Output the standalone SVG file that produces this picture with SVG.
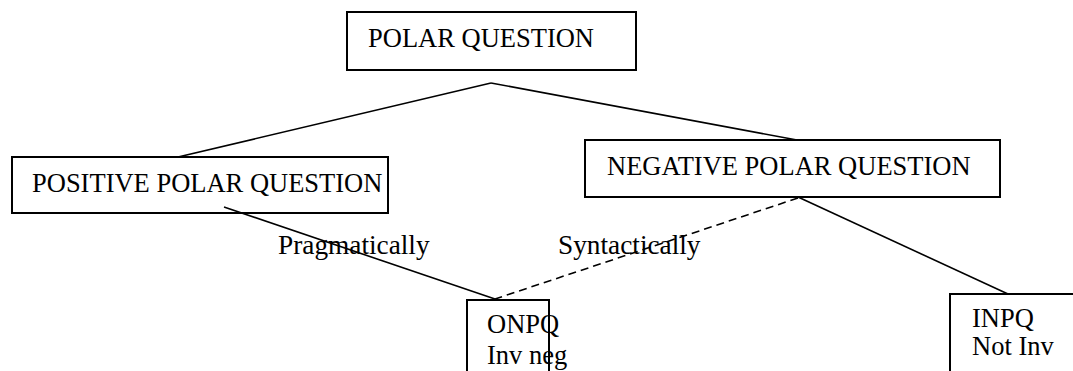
<svg xmlns="http://www.w3.org/2000/svg" width="1073" height="371" viewBox="0 0 1073 371">
<style>
.box{fill:#fff;stroke:#000;stroke-width:2}
.t{font-family:"Liberation Serif",serif;font-size:26.5px;fill:#000}
.lbl{font-family:"Liberation Serif",serif;font-size:27.3px;fill:#000}
.c{stroke:#000;stroke-width:1.6;fill:none}
.d{stroke-dasharray:8,5}
</style>
<rect width="1073" height="371" fill="#fff"/>
<g id="polar">
<rect class="box" x="347" y="12" width="289" height="58"/>
<text class="t" x="368" y="47">POLAR QUESTION</text>
</g>
<g id="positive">
<rect class="box" x="12" y="157" width="376" height="56"/>
<text class="t" x="32" y="192">POSITIVE POLAR QUESTION</text>
</g>
<g id="negative">
<rect class="box" x="585" y="140" width="415" height="57"/>
<text class="t" x="607" y="175">NEGATIVE POLAR QUESTION</text>
</g>
<g id="onpq">
<rect class="box" x="467" y="300" width="82" height="80"/>
<text class="t" x="487" y="333">ONPQ</text>
<text class="t" x="487" y="364">Inv neg</text>
</g>
<g id="inpq">
<rect class="box" x="950" y="294" width="130" height="90"/>
<text class="t" x="972" y="327">INPQ</text>
<text class="t" x="972" y="355">Not Inv</text>
</g>
<g id="labels">
<text class="lbl" x="278" y="254">Pragmatically</text>
<text class="lbl" x="558" y="254">Syntactically</text>
</g>
<g id="connectors">
<line class="c" x1="491" y1="83" x2="178" y2="157"/>
<line class="c" x1="491" y1="83" x2="797" y2="140"/>
<line class="c" x1="224" y1="207" x2="495" y2="299"/>
<line class="c d" x1="798" y1="198" x2="495" y2="299"/>
<line class="c" x1="798" y1="197" x2="1008" y2="294"/>
</g>
</svg>
